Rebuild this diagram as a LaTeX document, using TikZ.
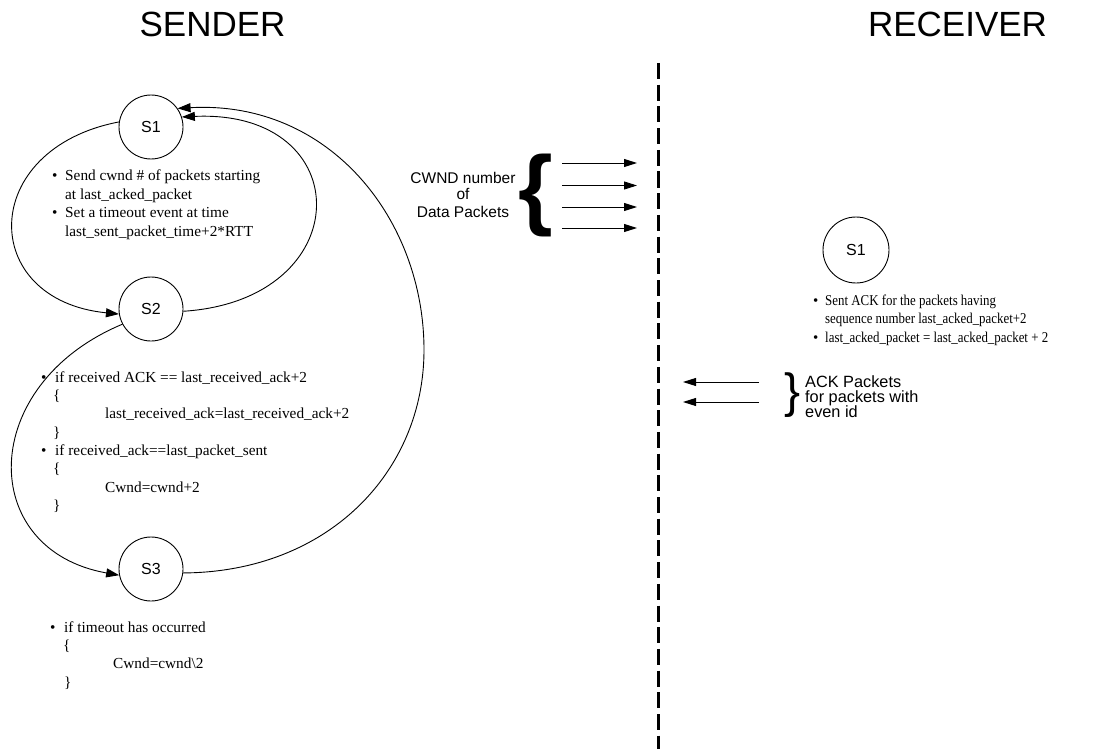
\documentclass[tikz,border=0pt]{standalone}
\usepackage{fontspec}
\setmainfont{Liberation Serif}
\setsansfont{Liberation Sans}
\usetikzlibrary{arrows.meta}
\newcommand\narrowtext[1]{\scalebox{0.86}[1]{#1}}
\begin{document}
\begin{tikzpicture}[x=1pt,y=-1pt,
  title/.style={anchor=base,inner sep=0pt,font=\sffamily\fontsize{35}{35}\selectfont},
  state/.style={circle,draw,fill=white,line width=0.9pt,minimum size=64pt,inner sep=0pt,
    font=\sffamily\fontsize{16}{16}\selectfont},
  link/.style={line width=0.9pt,-{Triangle[length=13pt,width=9pt]}},
  pkt/.style={line width=0.9pt,-{Triangle[length=13pt,width=8pt]}},
  divider/.style={line width=3pt,dash pattern=on 16pt off 5.7pt},
  note/.style={anchor=base west,inner sep=0pt,font=\fontsize{15.3}{18}\selectfont},
  rnote/.style={anchor=base west,inner sep=0pt,font=\fontsize{15}{18}\selectfont},
  lbl/.style={anchor=base,inner sep=0pt,font=\sffamily\fontsize{15.5}{18}\selectfont},
  acklbl/.style={anchor=base west,inner sep=0pt,font=\sffamily\fontsize{16.3}{18}\selectfont},
  bracket/.style={inner sep=0pt,font=\sffamily\fontsize{#1}{#1}\selectfont},
]
\useasboundingbox (0,0) rectangle (1098,749);

% headings
\node[title] (sender) at (212.5,36.5) {SENDER};
\node[title] (receiver) at (957.5,36.5) {RECEIVER};

% sender / receiver divide
\coordinate (divtop) at (658,63);
\coordinate (divbot) at (658,752);
\draw[divider] (divtop) -- (divbot);

% sender states
\node[state] (s1) at (151,127) {S1};
\node[state] (s2) at (151,309) {S2};
\node[state] (s3) at (151,569) {S3};
\coordinate (bend) at (424,350);

\draw[link] (s1.171) .. controls (-22,149) and (-22,300) .. (s2.189);
\draw[link] (s2.-4) .. controls (359,300) and (359,109) .. (s1.18);
\draw[link] (s2.208) .. controls (-23,385) and (-23,550) .. (s3.191);
\draw[link] (s3.-7) .. controls (330,572) and (424,470) .. (bend)
  .. controls (424,220) and (330,100) .. (s1.35);

% actions in state S1
\node[note] (b1a) at (52,181) {\textbullet};
\node[note] (t1a) at (65,181) {Send cwnd \# of packets starting};
\node[note] (t1b) at (65,199) {at last\_acked\_packet};
\node[note] (b1b) at (52,217) {\textbullet};
\node[note] (t1c) at (65,217) {Set a timeout event at time};
\node[note] (t1d) at (65,236) {last\_sent\_packet\_time+2*RTT};

% actions in state S2
\node[note] (b2a) at (41,382) {\textbullet};
\node[note] (t2a) at (55,382) {if received ACK == last\_received\_ack+2};
\node[note] (t2b) at (53,400) {\{};
\node[note] (t2c) at (105,418) {last\_received\_ack=last\_received\_ack+2};
\node[note] (t2d) at (53,437) {\}};
\node[note] (b2b) at (41,455) {\textbullet};
\node[note] (t2e) at (55,455) {if received\_ack==last\_packet\_sent};
\node[note] (t2f) at (53,473) {\{};
\node[note] (t2g) at (105,492) {Cwnd=cwnd+2};
\node[note] (t2h) at (53,510) {\}};

% actions in state S3
\node[note] (b3a) at (50,632) {\textbullet};
\node[note] (t3a) at (64,632) {if timeout has occurred};
\node[note] (t3b) at (63,650) {\{};
\node[note] (t3c) at (113,668) {Cwnd=cwnd\textbackslash 2};
\node[note] (t3d) at (64,687) {\}};

% data packets sent to the receiver
\node[lbl] (cw1) at (463,183) {CWND number};
\node[lbl] (cw2) at (463,200) {of};
\node[lbl] (cw3) at (463,217) {Data Packets};
\node[bracket=89,font=\sffamily\bfseries\fontsize{89}{89}\selectfont] (lbrace) at (535.5,195) {\{};

\coordinate (d1a) at (562,163);   \coordinate (d1b) at (637,163);
\coordinate (d2a) at (562,185.5); \coordinate (d2b) at (637,185.5);
\coordinate (d3a) at (562,207);   \coordinate (d3b) at (637,207);
\coordinate (d4a) at (562,228);   \coordinate (d4b) at (637,228);
\draw[pkt] (d1a) -- (d1b);
\draw[pkt] (d2a) -- (d2b);
\draw[pkt] (d3a) -- (d3b);
\draw[pkt] (d4a) -- (d4b);

% receiver state
\node[state,minimum size=66pt] (r1) at (856,250) {S1};
\node[rnote] (rb1) at (813,305) {\textbullet};
\node[rnote] (rt1) at (825,305) {\narrowtext{Sent ACK for the packets having}};
\node[rnote] (rt2) at (825,323) {\narrowtext{sequence number last\_acked\_packet+2}};
\node[rnote] (rb2) at (813,342) {\textbullet};
\node[rnote] (rt3) at (825,342) {\narrowtext{last\_acked\_packet = last\_acked\_packet + 2}};

% acknowledgements sent back
\coordinate (k1a) at (759,382); \coordinate (k1b) at (683,382);
\coordinate (k2a) at (759,402); \coordinate (k2b) at (683,402);
\draw[pkt] (k1a) -- (k1b);
\draw[pkt] (k2a) -- (k2b);
\node[bracket=48] (rbrace) at (792.5,395.5) {\}};
\node[acklbl] (ak1) at (805,387) {ACK Packets};
\node[acklbl] (ak2) at (805,402) {for packets with};
\node[acklbl] (ak3) at (805,417) {even id};
\end{tikzpicture}
\end{document}
